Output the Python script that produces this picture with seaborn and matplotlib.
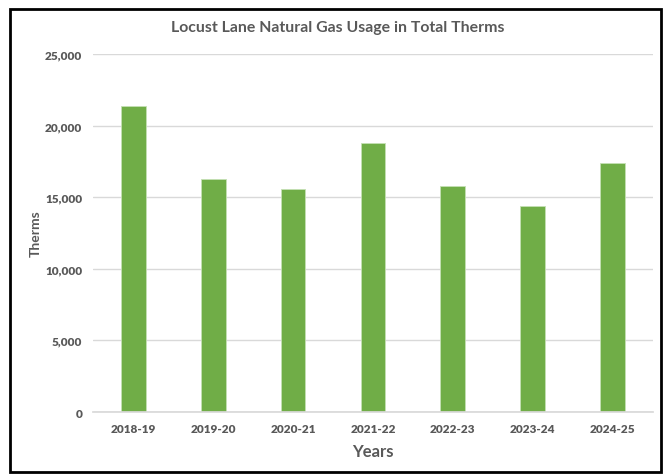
import numpy as np
import pandas as pd
import seaborn as sns
import matplotlib.pyplot as plt
from matplotlib.patches import Rectangle
from matplotlib.ticker import FuncFormatter

years = ['2018-19', '2019-20', '2020-21', '2021-22', '2022-23', '2023-24', '2024-25']
therms = [21380, 16280, 15580, 18790, 15810, 14400, 17400]

df = pd.DataFrame({'Years': years, 'Therms': therms})

sns.set_theme(style='white')
plt.rcParams['font.family'] = ['Lato', 'DejaVu Sans']

grey = '#595959'
fig = plt.figure(figsize=(6.66, 4.77), dpi=100)
ax = fig.add_axes([0.14, 0.134, 0.84, 0.751])

sns.barplot(data=df, x='Years', y='Therms', ax=ax, color='#70AD47',
            width=0.31, saturation=1, edgecolor='#C5E0B4', linewidth=0.6)

ax.set_ylim(0, 25000)
ax.set_yticks(np.arange(0, 25001, 5000))
ax.yaxis.set_major_formatter(FuncFormatter(lambda v, p: f'{int(v):,}'))
ax.grid(axis='y', color='#D9D9D9', linewidth=1)
ax.set_axisbelow(True)
for s in ['top', 'right', 'left']:
    ax.spines[s].set_visible(False)
ax.spines['bottom'].set_color('#D9D9D9')
ax.tick_params(axis='both', length=0, labelsize=8.5, labelcolor=grey, pad=8)
for lab in ax.get_xticklabels() + ax.get_yticklabels():
    lab.set_fontweight('heavy')

ax.set_xlabel('Years', fontsize=12, fontweight='bold', color=grey, labelpad=6)
ax.set_ylabel('Therms', fontsize=10, fontweight='bold', color=grey, labelpad=2)
fig.suptitle('Locust Lane Natural Gas Usage in Total Therms', x=0.507, y=0.955,
             fontsize=11.4, fontweight='bold', color=grey)

fig.patches.append(Rectangle((0.015, 0.008), 0.978, 0.972, transform=fig.transFigure,
                             fill=False, edgecolor='black', linewidth=2))

fig.savefig('out.png', dpi=100)
